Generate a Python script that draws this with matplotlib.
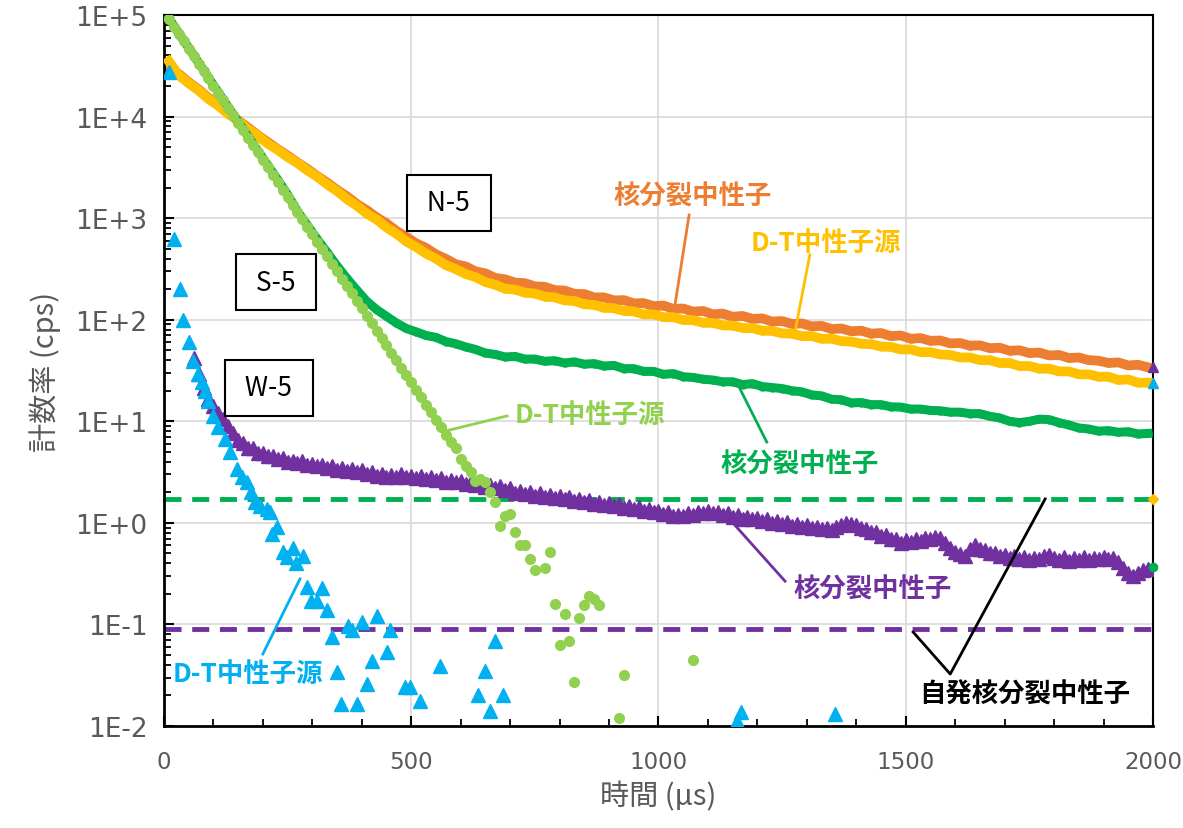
import numpy as np
import matplotlib
matplotlib.use('Agg')
import matplotlib.pyplot as plt
from matplotlib.ticker import LogLocator, MultipleLocator, NullFormatter

plt.rcParams['font.family'] = ['Noto Sans CJK JP', 'DejaVu Sans']

# ---- data (counts in cps, time in us) ----
t_dense = np.arange(10, 2000, 20)          # sampling times of the dense series

n5_fission = [31000, 26300, 21800, 18500, 15300, 13100, 10900, 9200, 7800, 6550,
              5600, 4780, 4130, 3530, 3050, 2600, 2240, 1900, 1640, 1380,
              1200, 1020, 890, 750, 655, 565, 510, 440, 398, 352,
              335, 300, 286, 258, 250, 232, 229, 213, 211, 196,
              194, 180, 179, 166, 166, 155, 156, 145, 146, 136,
              138, 128, 129, 120, 122, 113, 115, 107, 109, 102,
              103, 96, 97, 91, 92, 86, 87, 81, 82, 77,
              78, 73, 74, 69, 70, 65, 66, 62, 62.5, 58.5,
              59, 55.5, 56, 52.5, 53, 49.5, 50, 47, 47.5, 44.5,
              45, 42, 42.5, 40, 39.5, 37.5, 38, 35.5, 36, 34]

n5_dt = [35000, 25500, 21300, 18100, 14900, 12800, 10600, 9050, 7550, 6450,
         5400, 4700, 4000, 3480, 2950, 2560, 2150, 1850, 1540, 1330,
         1110, 970, 810, 705, 590, 520, 448, 400, 345, 315,
         282, 263, 235, 221, 202, 198, 185, 181, 169, 166,
         155, 153, 142, 140, 131, 130, 122, 121, 113, 113,
         106, 106, 99.5, 99, 93.5, 93, 88, 87.5, 83, 82.5,
         78, 77.5, 73.5, 73, 69, 69, 65, 65, 61.5, 61,
         58, 57.5, 54.5, 54, 51, 51, 48, 48, 45.5, 45,
         42.5, 42.5, 40, 40, 37.5, 37.5, 35, 35, 33, 33,
         31, 31, 29, 29, 27.5, 27.5, 25.5, 25.8, 24, 24]

s5_fission = [93000, 66000, 47500, 34000, 24200, 17300, 12400, 8900, 6400, 4600,
              3300, 2400, 1700, 1170, 850, 620, 460, 340, 255, 196,
              152, 126, 108, 93, 82, 76, 70, 67, 61, 58,
              54, 51, 47, 45.5, 43, 43.5, 41, 41, 39, 39.5,
              37.5, 38.5, 36.5, 37, 35, 35.5, 33, 33, 31, 31,
              29, 29.5, 27.5, 27, 26, 25.5, 24.5, 24.5, 23, 23.5,
              22, 21.5, 21, 20, 19.5, 18.2, 17.8, 16.5, 16.3, 15.2,
              15.3, 14.6, 14.6, 13.9, 13.8, 13.2, 13.2, 12.8, 12.7, 12.3,
              12.3, 11.9, 11.9, 11.2, 10.8, 10.0, 9.7, 10.0, 10.5, 10.4,
              9.7, 9.2, 8.6, 8.4, 8.0, 8.1, 7.8, 7.9, 7.5, 7.6]

t_s5_dt = list(range(10, 760, 10)) + [770, 780, 790, 800, 810, 820, 830, 840,
                                      850, 860, 870, 880, 920, 930, 1070]
s5_dt = [91000, 77000, 65000, 55000, 46600, 39400, 33300, 28100, 23800, 20100,
         17000, 14400, 12100, 10300, 8670, 7330, 6190, 5240, 4430, 3740,
         3160, 2670, 2260, 1910, 1610, 1360, 1150, 975, 824, 697,
         589, 498, 421, 356, 301, 254, 215, 182, 153, 130,
         110, 92.7, 78.3, 66.2, 56.0, 47.3, 40.0, 33.8, 28.6, 24.2,
         20.4, 17.3, 14.6, 12.3, 10.4, 8.8, 7.4, 6.3, 5.4, 4.3,
         3.6, 3.2, 2.6, 2.7, 2.5, 2.0, 1.6, 0.93, 1.17, 1.23,
         0.81, 0.60, 0.60, 0.44, 0.34,
         0.36, 0.52, 0.16, 0.063, 0.126, 0.068, 0.027, 0.117,
         0.157, 0.19, 0.178, 0.155, 0.012, 0.032, 0.045]

t_w5_fission = np.arange(60, 2000, 10)
w5_fission = [42, 29, 21.5, 16.5, 14, 12, 10.5, 9.0, 7.6, 6.5,
              6.1, 5.5, 5.4, 4.9, 4.9, 4.6, 4.6, 4.3, 4.4, 4.0,
              4.1, 3.85, 4.1, 3.7, 3.8, 3.6, 3.75, 3.45, 3.6, 3.35,
              3.5, 3.25, 3.4, 3.15, 3.3, 3.0, 3.15, 2.9, 3.05, 2.85,
              2.95, 2.8, 3.0, 2.85, 2.9, 2.75, 2.9, 2.7, 2.8, 2.62,
              2.75, 2.55, 2.65, 2.5, 2.6, 2.42, 2.5, 2.35, 2.45, 2.28,
              2.35, 2.2, 2.3, 2.1, 2.2, 1.98, 2.05, 1.92, 2.0, 1.86,
              1.95, 1.8, 1.9, 1.75, 1.82, 1.7, 1.78, 1.65, 1.72, 1.6,
              1.68, 1.55, 1.62, 1.5, 1.56, 1.45, 1.52, 1.4, 1.47, 1.36,
              1.42, 1.32, 1.38, 1.27, 1.32, 1.22, 1.27, 1.18, 1.2, 1.16,
              1.24, 1.2, 1.28, 1.24, 1.32, 1.25, 1.28, 1.2, 1.24, 1.15,
              1.2, 1.1, 1.15, 1.08, 1.12, 1.04, 1.08, 1.0, 1.05, 0.97,
              1.01, 0.94, 0.98, 0.92, 0.95, 0.9, 0.92, 0.87, 0.9, 0.86,
              0.91, 0.95, 1.0, 0.97, 0.95, 0.89, 0.88, 0.81, 0.82, 0.74,
              0.76, 0.69, 0.7, 0.64, 0.68, 0.65, 0.7, 0.67, 0.71, 0.69,
              0.73, 0.71, 0.64, 0.57, 0.52, 0.49, 0.47, 0.55, 0.6, 0.55,
              0.54, 0.5, 0.5, 0.47, 0.48, 0.45, 0.47, 0.44, 0.46, 0.43,
              0.45, 0.44, 0.47, 0.48, 0.45, 0.43, 0.46, 0.42, 0.45, 0.43,
              0.46, 0.43, 0.45, 0.44, 0.46, 0.44, 0.45, 0.41, 0.36, 0.32,
              0.3, 0.32, 0.34, 0.35]

t_w5_dt = [10, 20, 32, 39, 51, 59, 69, 77, 83, 89, 99, 109, 123, 133, 147, 157,
           167, 177, 184, 194, 208, 214, 218, 228, 241, 248, 261, 268, 281, 289,
           298, 309, 319, 329, 339, 350, 359, 372, 380, 390, 400, 410, 420, 430,
           451, 457, 487, 497, 518, 558, 635, 649, 659, 669, 686, 1159, 1167, 1357]
w5_dt = [27500, 620, 200, 100, 60, 39, 29, 24.5, 20, 16, 11.3, 8.7, 6.7, 5.0, 3.4, 2.8,
         2.5, 2.0, 1.6, 1.46, 1.36, 1.27, 0.78, 0.91, 0.52, 0.46, 0.57, 0.40, 0.47, 0.235,
         0.17, 0.17, 0.23, 0.14, 0.075, 0.034, 0.0165, 0.096, 0.089, 0.0165, 0.105, 0.026, 0.044, 0.12,
         0.054, 0.089, 0.0245, 0.024, 0.0175, 0.039, 0.020, 0.035, 0.014, 0.069, 0.020, 0.0112, 0.0138, 0.013]

sf_s5 = 1.72      # spontaneous fission level, S-5
sf_w5 = 0.090     # spontaneous fission level, W-5

c_orange = '#ED7D31'
c_gold = '#FFC000'
c_green = '#00B050'
c_lgreen = '#92D050'
c_purple = '#7030A0'
c_blue = '#00B0F0'

fig = plt.figure(figsize=(11.83, 8.29), dpi=100)
ax = fig.add_axes([0.1386, 0.1230, 0.836, 0.8577])

ax.axhline(sf_s5, color=c_green, lw=3.5, dashes=(3.5, 2.2), zorder=1)
ax.axhline(sf_w5, color=c_purple, lw=3.5, dashes=(3.5, 2.2), zorder=1)

ax.plot(t_dense, n5_fission, color=c_orange, lw=7, marker='o', ms=5, zorder=2)
ax.plot(t_dense, n5_dt, color=c_gold, lw=7, marker='o', ms=5, zorder=3)
ax.plot(t_w5_fission, w5_fission, ls='none', marker='^', ms=10.5, color=c_purple, zorder=4)
ax.plot(t_dense, s5_fission, color=c_green, lw=6.5, marker='o', ms=5, zorder=5)
ax.plot(t_s5_dt, s5_dt, ls='none', marker='o', ms=7, color=c_lgreen, zorder=6)
ax.plot(t_w5_dt, w5_dt, ls='none', marker='^', ms=10, color=c_blue, zorder=7)

# odd end markers sitting on the right edge
ax.plot([2000], [34], marker='^', ms=7, color=c_purple, clip_on=False, zorder=8)
ax.plot([2000], [24], marker='^', ms=7, color=c_blue, clip_on=False, zorder=8)
ax.plot([2000], [sf_s5], marker='D', ms=5, color=c_gold, clip_on=False, zorder=8)
ax.plot([2000], [0.37], marker='o', ms=6, color=c_green, clip_on=False, zorder=8)

ax.set_yscale('log')
ax.set_xlim(0, 2000)
ax.set_ylim(1e-2, 1e5)
ax.set_yticks([1e-2, 1e-1, 1, 10, 100, 1e3, 1e4, 1e5],
              ['1E-2', '1E-1', '1E+0', '1E+1', '1E+2', '1E+3', '1E+4', '1E+5'])
ax.yaxis.set_minor_locator(LogLocator(base=10, subs=np.arange(2, 10)))
ax.yaxis.set_minor_formatter(NullFormatter())
ax.set_xticks([0, 500, 1000, 1500, 2000])
ax.xaxis.set_minor_locator(MultipleLocator(100))

ax.tick_params(which='major', direction='in', length=7, width=1.5, labelsize=19,
               labelcolor='#595959', color='black')
ax.tick_params(which='minor', direction='in', length=5, width=1.3, color='black')
ax.tick_params(axis='y', which='major', pad=12)
ax.tick_params(axis='x', which='major', pad=17, labelsize=16.5)
for lab in ax.get_xticklabels() + ax.get_yticklabels():
    lab.set_family('DejaVu Sans')
ax.grid(True, which='major', color='#D9D9D9', lw=1.2, zorder=0)
ax.set_axisbelow(True)
for s in ['left', 'bottom']:
    ax.spines[s].set_linewidth(2)
for s in ['top', 'right']:
    ax.spines[s].set_linewidth(1.5)

ax.set_xlabel('時間 (µs)', fontsize=21, color='#595959', labelpad=6)
ax.set_ylabel('計数率 (cps)', fontsize=21, color='#595959', labelpad=10)

box = dict(boxstyle='square,pad=0.55', fc='white', ec='black', lw=1.5)
ax.text(576, 1410, ' N-5 ', fontsize=19, ha='center', va='center', bbox=box, zorder=9)
ax.text(226, 235, ' S-5 ', fontsize=19, ha='center', va='center', bbox=box, zorder=9)
ax.text(212, 21.3, ' W-5 ', fontsize=19, ha='center', va='center', bbox=box, zorder=9)

def label(txt, xy_txt, p0, p1, col):
    ax.text(xy_txt[0], xy_txt[1], txt, fontsize=19, fontweight='bold', color=col,
            ha='center', va='center', zorder=9)
    ax.plot([p0[0], p1[0]], [p0[1], p1[1]], color=col, lw=2, zorder=9)

label('核分裂中性子', (1070, 1650), (1062, 1075), (1033, 136), c_orange)
label('D-T中性子源', (1339, 582), (1306, 434), (1276, 75.7), c_gold)
label('核分裂中性子', (1286, 3.8), (1165, 20.8), (1219, 6.25), c_green)
label('D-T中性子源', (861, 11.8), (694, 11.3), (568, 8.0), c_lgreen)
label('核分裂中性子', (1434, 0.223), (1256, 0.267), (1145, 1.07), c_purple)
label('D-T中性子源', (170, 0.0332), (200, 0.0512), (275, 0.28), c_blue)

ax.text(1741, 0.0206, '自発核分裂中性子', fontsize=19, fontweight='bold', color='black',
        ha='center', va='center', zorder=9)
ax.plot([1515, 1590, 1782], [0.0842, 0.0325, 1.72], color='black', lw=2, zorder=9)

fig.savefig('out.png', dpi=100)
